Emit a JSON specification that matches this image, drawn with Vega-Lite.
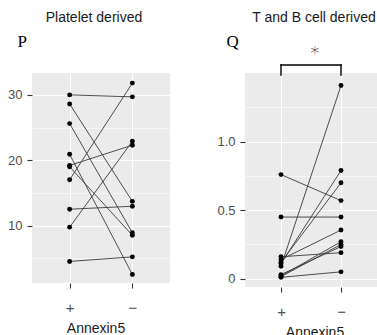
{
  "$schema": "https://vega.github.io/schema/vega-lite/v6.json",
  "background": "white",
  "padding": {"left": 7, "top": 11, "right": 0, "bottom": 0},
  "spacing": 46,
  "config": {
    "view": {"fill": "#EBEBEB", "stroke": null},
    "font": "Liberation Sans",
    "axis": {
      "domain": false,
      "tickColor": "#333333",
      "tickSize": 5,
      "tickWidth": 1.1,
      "labelColor": "#4D4D4D",
      "labelFont": "Liberation Sans",
      "labelFontSize": 13,
      "labelOverlap": false,
      "gridColor": "white",
      "titleFont": "Liberation Sans",
      "titleFontWeight": "normal",
      "titleFontSize": 14,
      "titleColor": "#1A1A1A"
    },
    "title": {"font": "Liberation Sans", "fontSize": 14, "fontWeight": "normal", "color": "#1A1A1A"}
  },
  "datasets": {
    "platelet": [
      {"id": 1, "annexin": "+", "value": 30.0}, {"id": 1, "annexin": "−", "value": 29.7},
      {"id": 2, "annexin": "+", "value": 28.6}, {"id": 2, "annexin": "−", "value": 13.7},
      {"id": 3, "annexin": "+", "value": 25.6}, {"id": 3, "annexin": "−", "value": 8.9},
      {"id": 4, "annexin": "+", "value": 20.9}, {"id": 4, "annexin": "−", "value": 2.5},
      {"id": 5, "annexin": "+", "value": 19.2}, {"id": 5, "annexin": "−", "value": 22.3},
      {"id": 6, "annexin": "+", "value": 19.0}, {"id": 6, "annexin": "−", "value": 8.5},
      {"id": 7, "annexin": "+", "value": 17.0}, {"id": 7, "annexin": "−", "value": 31.8},
      {"id": 8, "annexin": "+", "value": 12.5}, {"id": 8, "annexin": "−", "value": 12.95},
      {"id": 9, "annexin": "+", "value": 9.75}, {"id": 9, "annexin": "−", "value": 22.9},
      {"id": 10, "annexin": "+", "value": 4.5}, {"id": 10, "annexin": "−", "value": 5.2}
    ],
    "tb": [
      {"id": 1, "annexin": "+", "value": 0.76}, {"id": 1, "annexin": "−", "value": 0.57},
      {"id": 2, "annexin": "+", "value": 0.45}, {"id": 2, "annexin": "−", "value": 0.45},
      {"id": 3, "annexin": "+", "value": 0.09}, {"id": 3, "annexin": "−", "value": 1.41},
      {"id": 4, "annexin": "+", "value": 0.11}, {"id": 4, "annexin": "−", "value": 0.79},
      {"id": 5, "annexin": "+", "value": 0.12}, {"id": 5, "annexin": "−", "value": 0.70},
      {"id": 6, "annexin": "+", "value": 0.14}, {"id": 6, "annexin": "−", "value": 0.355},
      {"id": 7, "annexin": "+", "value": 0.16}, {"id": 7, "annexin": "−", "value": 0.19},
      {"id": 8, "annexin": "+", "value": 0.02}, {"id": 8, "annexin": "−", "value": 0.27},
      {"id": 9, "annexin": "+", "value": 0.015}, {"id": 9, "annexin": "−", "value": 0.25},
      {"id": 10, "annexin": "+", "value": 0.03}, {"id": 10, "annexin": "−", "value": 0.235},
      {"id": 11, "annexin": "+", "value": 0.01}, {"id": 11, "annexin": "−", "value": 0.05}
    ],
    "bracket": [
      {"from": "+", "to": "+", "y": 1.487, "y2": 1.56},
      {"from": "+", "to": "−", "y": 1.56, "y2": 1.56},
      {"from": "−", "to": "−", "y": 1.487, "y2": 1.56}
    ],
    "sig": [{"annexin": "+", "y": 1.665, "label": "∗"}]
  },
  "hconcat": [
    {
      "width": 138,
      "height": 210,
      "title": {"text": "Platelet derived", "anchor": "middle", "dx": -7, "offset": 7},
      "data": {"name": "platelet"},
      "encoding": {
        "x": {
          "field": "annexin", "type": "ordinal",
          "scale": {"type": "point", "padding": 0.6, "domain": ["+", "−"]},
          "axis": {"title": "Annexin5", "labelAngle": 0, "labelPadding": 12, "labelFontSize": 15, "grid": true, "gridWidth": 1.1, "titlePadding": 6, "titleX": 63.5}
        },
        "y": {
          "field": "value", "type": "quantitative",
          "scale": {"domain": [1.2, 33.35], "nice": false, "zero": false},
          "axis": {
            "values": [5, 10, 15, 20, 25, 30],
            "labelExpr": "datum.value % 10 === 0 ? datum.label : ''",
            "labelFlush": false,
            "labelPadding": 5,
            "gridWidth": {"condition": {"test": "datum.value % 10 === 0", "value": 1.1}, "value": 0.55},
            "tickOpacity": {"condition": {"test": "datum.value % 10 === 0", "value": 1}, "value": 0},
            "title": "P", "titleAngle": 0, "titleFont": "Liberation Serif", "titleFontSize": 17, "titleColor": "black",
            "titleAlign": "left", "titleBaseline": "alphabetic", "titleX": -15, "titleY": -27
          }
        }
      },
      "layer": [
        {"mark": {"type": "line", "color": "#3A3A3A", "strokeWidth": 0.9}, "encoding": {"detail": {"field": "id"}}},
        {"mark": {"type": "point", "filled": true, "color": "black", "size": 24, "opacity": 1}}
      ]
    },
    {
      "width": 132,
      "height": 214,
      "title": {"text": "T and B cell derived", "anchor": "middle", "dx": 3, "offset": 7.5},
      "encoding": {
        "x": {
          "field": "annexin", "type": "ordinal",
          "scale": {"type": "point", "padding": 0.6, "domain": ["+", "−"]},
          "axis": {"title": "Annexin5", "labelAngle": 0, "labelPadding": 12, "labelFontSize": 15, "grid": true, "gridWidth": 1.1, "titlePadding": 6, "titleX": 69.5}
        },
        "y": {
          "field": "value", "type": "quantitative",
          "scale": {"domain": [-0.0606, 1.5015], "nice": false, "zero": false},
          "axis": {
            "values": [0, 0.25, 0.5, 0.75, 1, 1.25],
            "labelExpr": "datum.value === 0 ? '0' : ((datum.value * 2) % 1 === 0 ? format(datum.value, '.1f') : '')",
            "labelFlush": false,
            "labelPadding": 5,
            "gridWidth": {"condition": {"test": "(datum.value * 2) % 1 === 0", "value": 1.1}, "value": 0.55},
            "tickOpacity": {"condition": {"test": "(datum.value * 2) % 1 === 0", "value": 1}, "value": 0},
            "title": "Q", "titleAngle": 0, "titleFont": "Liberation Serif", "titleFontSize": 17, "titleColor": "black",
            "titleAlign": "left", "titleBaseline": "alphabetic", "titleX": -19, "titleY": -26.5
          }
        }
      },
      "layer": [
        {"data": {"name": "tb"}, "mark": {"type": "line", "color": "#3A3A3A", "strokeWidth": 0.9}, "encoding": {"detail": {"field": "id"}}},
        {"data": {"name": "tb"}, "mark": {"type": "point", "filled": true, "color": "black", "size": 24, "opacity": 1}},
        {
          "data": {"name": "bracket"},
          "mark": {"type": "rule", "color": "black", "strokeWidth": 1.4, "strokeCap": "square"},
          "encoding": {
            "x": {"field": "from", "type": "ordinal"},
            "x2": {"field": "to"},
            "y": {"field": "y", "type": "quantitative"},
            "y2": {"field": "y2"}
          }
        },
        {
          "data": {"name": "sig"},
          "mark": {"type": "text", "font": "DejaVu Sans", "fontWeight": 200, "fontSize": 18, "color": "#1A1A1A", "dx": 34, "align": "center", "baseline": "middle"},
          "encoding": {
            "x": {"field": "annexin", "type": "ordinal"},
            "y": {"field": "y", "type": "quantitative"},
            "text": {"field": "label"}
          }
        }
      ]
    }
  ]
}
